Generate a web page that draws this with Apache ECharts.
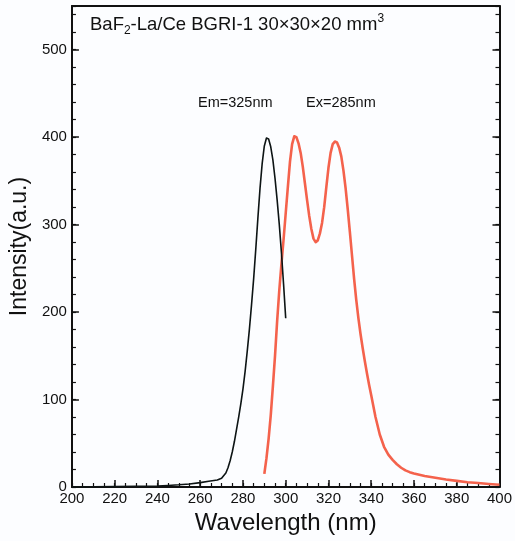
<!DOCTYPE html>
<html><head><meta charset="utf-8">
<script src="https://cdn.jsdelivr.net/npm/echarts@6/dist/echarts.min.js"></script>
<style>html,body{margin:0;padding:0;background:#fcfdff}#c{width:515px;height:541px}</style>
</head><body><div id="c"></div>
<script>
// Excitation spectrum (monitored at Em=325nm) – black
const emWavelength = [200,210,220,230,240,245,250,255,260,264,268,270,272,273,274,275,276,277,278,279,280,281,282,283,284,285,286,287,288,289,290,291,292,293,294,295,296,297,298,299,300];
const emIntensity  = [0,0.3,0.5,0.8,1.2,1.8,2.5,3.5,5,6.5,8,10,16,22,30,40,52,66,80,95,112,132,155,180,208,238,272,308,342,370,390,399,398,389,374,353,328,300,268,232,193];
// Emission spectrum (excited at Ex=285nm) – red
const exWavelength = [290,291,292,293,294,295,296,297,298,299,300,301,302,303,304,305,306,307,308,309,310,311,312,313,314,315,316,317,318,319,320,321,322,323,324,325,326,327,328,329,330,331,332,333,334,335,336,337,338,339,340,342,344,346,348,350,352,354,356,358,360,365,370,375,380,385,390,395,400];
const exIntensity  = [15,33,55,82,115,150,190,225,255,283,313,343,372,392,401,400,393,382,366,347,328,310,295,284,280,282,290,302,320,343,365,382,392,395,394,388,378,362,342,318,292,265,238,214,193,175,159,144,130,117,105,80,60,46,37,31,26,22,19,17,15.5,12.5,10.5,8.5,7,5.5,4.5,3.5,2.5];
const xTicks = [200,220,240,260,280,300,320,340,360,380,400];
const yTicks = [0,100,200,300,400,500];

const pairs = (xs, ys) => xs.map((x, i) => [x, ys[i]]);
const FONT = 'Liberation Sans, Arial, sans-serif';
const INK = '#111';

const chart = echarts.init(document.getElementById('c'), null, {renderer: 'canvas'});
const baseX = {type: 'value', min: 200, max: 400, gridIndex: 0};
const baseY = {type: 'value', min: 0, max: 550, gridIndex: 0};
chart.setOption({
  backgroundColor: '#fcfdff',
  animation: false,
  grid: {left: 68, right: 13, top: 6, bottom: 54},
  xAxis: [
    Object.assign({}, baseX, {
      position: 'bottom', interval: 20,
      name: 'Wavelength (nm)', nameLocation: 'middle', nameGap: 24,
      nameTextStyle: {fontFamily: FONT, fontSize: 24, color: INK},
      axisLine: {onZero: false, lineStyle: {color: INK, width: 2}},
      axisTick: {inside: true, length: 7, lineStyle: {color: INK, width: 1.5}},
      axisLabel: {fontFamily: FONT, fontSize: 15, color: INK, margin: 4,
        formatter: v => (xTicks.indexOf(v) >= 0 ? String(v) : '')},
      splitLine: {show: false}
    }),
    Object.assign({}, baseX, {
      position: 'bottom', interval: 5,
      axisLine: {show: false, onZero: false},
      axisTick: {inside: true, length: 4, lineStyle: {color: INK, width: 1.2}},
      axisLabel: {show: false}, splitLine: {show: false}
    }),
    Object.assign({}, baseX, {
      position: 'top',
      axisLine: {onZero: false, lineStyle: {color: INK, width: 2}},
      axisTick: {show: false}, axisLabel: {show: false}, splitLine: {show: false}
    })
  ],
  yAxis: [
    Object.assign({}, baseY, {
      position: 'left', interval: 100,
      name: 'Intensity(a.u.)', nameLocation: 'middle', nameGap: 40,
      nameTextStyle: {fontFamily: FONT, fontSize: 23, color: INK},
      axisLine: {onZero: false, lineStyle: {color: INK, width: 2}},
      axisTick: {inside: true, length: 7, lineStyle: {color: INK, width: 1.5}},
      axisLabel: {fontFamily: FONT, fontSize: 15, color: INK, margin: 5, showMaxLabel: false,
        formatter: v => (yTicks.indexOf(v) >= 0 ? String(v) : '')},
      splitLine: {show: false}
    }),
    Object.assign({}, baseY, {
      position: 'left', interval: 20,
      axisLine: {show: false, onZero: false},
      axisTick: {inside: true, length: 4, lineStyle: {color: INK, width: 1.2}},
      axisLabel: {show: false}, splitLine: {show: false}
    }),
    Object.assign({}, baseY, {
      position: 'right', interval: 100,
      axisLine: {onZero: false, lineStyle: {color: INK, width: 2}},
      axisTick: {inside: true, length: 7, lineStyle: {color: INK, width: 1.5}},
      axisLabel: {show: false}, splitLine: {show: false}
    }),
    Object.assign({}, baseY, {
      position: 'right', interval: 20,
      axisLine: {show: false, onZero: false},
      axisTick: {inside: true, length: 4, lineStyle: {color: INK, width: 1.2}},
      axisLabel: {show: false}, splitLine: {show: false}
    })
  ],
  series: [
    {
      name: 'Em=325nm', type: 'line', xAxisIndex: 0, yAxisIndex: 0,
      data: pairs(emWavelength, emIntensity), smooth: false, showSymbol: false,
      lineStyle: {color: '#0d1414', width: 1.6, join: 'round'}, z: 3
    },
    {
      name: 'Ex=285nm', type: 'line', xAxisIndex: 0, yAxisIndex: 0,
      data: pairs(exWavelength, exIntensity), smooth: false, showSymbol: false,
      lineStyle: {color: '#f4624c', width: 2.6, join: 'round'}, z: 2
    }
  ],
  graphic: [
    {
      type: 'text', left: 90, top: 13,
      style: {
        text: '{n|BaF}{sub|2}{n|-La/Ce BGRI-1 30×30×20 mm}{sup|3}',
        rich: {
          n: {fontFamily: FONT, fontSize: 18.5, fill: INK, verticalAlign: 'middle', lineHeight: 24},
          sub: {fontFamily: FONT, fontSize: 12, fill: INK, verticalAlign: 'bottom', lineHeight: 12},
          sup: {fontFamily: FONT, fontSize: 12, fill: INK, verticalAlign: 'top', lineHeight: 12}
        }
      }
    },
    {type: 'text', left: 198, top: 95, style: {text: 'Em=325nm', fontFamily: FONT, fontSize: 14.5, fill: INK}},
    {type: 'text', left: 306, top: 95, style: {text: 'Ex=285nm', fontFamily: FONT, fontSize: 14.5, fill: INK}}
  ]
});
</script>
</body></html>
